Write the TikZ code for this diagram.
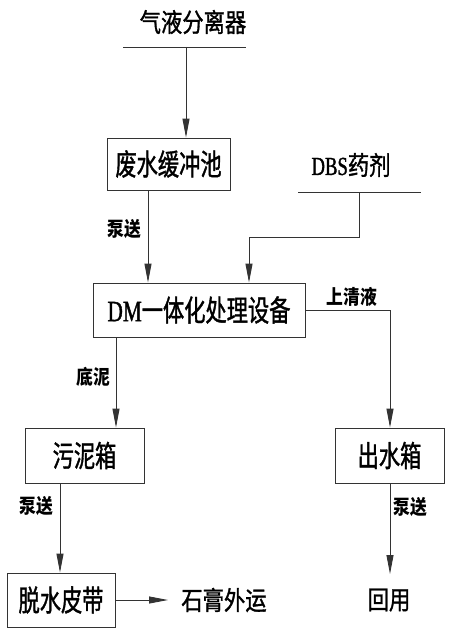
\documentclass[tikz,border=0pt]{standalone}
\usepackage{fontspec}
\setmainfont{Noto Sans CJK SC}[FakeStretch=0.72,FakeBold=1.2]
\newfontfamily\cjkB{Noto Sans CJK SC}[FakeStretch=0.82,FakeBold=1.2]
\newfontfamily\cjkL{Noto Sans CJK SC}[FakeStretch=0.84]
\newfontfamily\latf{Liberation Serif}[FakeStretch=0.72,FakeBold=1.2]
\usetikzlibrary{arrows.meta}
\tikzset{
  ln/.style={draw=black!80, line width=0.9pt},
  arr/.style={ln, -{Triangle[length=19pt,width=7pt]}},
  box/.style={ln, fill=white, inner sep=0pt, font=\fontsize{29.5}{29.5}\selectfont},
  big/.style={inner sep=0pt, font=\cjkB\fontsize{26}{26}\selectfont},
  lab/.style={inner sep=0pt, font=\cjkL\bfseries\fontsize{20}{20}\selectfont},
}
\begin{document}
\begin{tikzpicture}[x=1pt,y=-1pt]
\useasboundingbox (0,0) rectangle (450,634);
% boxes
\node[box, minimum width=123pt, minimum height=52pt] (buf) at (168.5,164) {废水缓冲池};
\node[box, minimum width=212pt, minimum height=54pt] (dm) at (199,310) {{\latf DM}一体化处理设备};
\node[box, minimum width=119pt, minimum height=55pt] (sl) at (84.5,455.5) {污泥箱};
\node[box, minimum width=109pt, minimum height=55pt] (ob) at (389.5,455.5) {出水箱};
\node[box, minimum width=108pt, minimum height=54pt] (belt) at (61,600) {脱水皮带};
% plain texts
\node[big] (gs) at (193,22) {气液分离器};
\node[big] (dbs) at (351,165) {{\latf DBS}药剂};
\node[big] (gyp) at (224,600) {石膏外运};
\node[big] (reuse) at (389,600) {回用};
% labels
\node[lab] (l1) at (124,229) {泵送};
\node[lab] (l2) at (352,297) {上清液};
\node[lab] (l3) at (93,377) {底泥};
\node[lab] (l4) at (36,506) {泵送};
\node[lab] (l5) at (410,507) {泵送};
% helper coordinates
\coordinate (gL) at (123,47);
\coordinate (gR) at (246,47);
\coordinate (gV) at (186,47);
\coordinate (dL) at (298,192);
\coordinate (dR) at (421,192);
\coordinate (dV) at (359,192);
\coordinate (dK) at (359,237);
\coordinate (dJ) at (249,237);
\coordinate (xa) at (148,0);
\coordinate (xs) at (116,0);
\coordinate (xr) at (390,0);
\coordinate (xb) at (60,0);
\coordinate (rt) at (390,574);
\coordinate (gt) at (168,600);
% connectors
\draw[ln] (gL) -- (gR);
\draw[arr] (gV) -- (gV |- buf.north);
\draw[ln] (dL) -- (dR);
\draw[arr] (dV) -- (dK) -- (dJ) -- (dJ |- dm.north);
\draw[arr] (buf.south -| xa) -- (dm.north -| xa);
\draw[arr] (dm.south -| xs) -- (sl.north -| xs);
\draw[arr] (dm.east) -| (xr |- ob.north);
\draw[arr] (sl.south -| xb) -- (belt.north -| xb);
\draw[arr] (belt.east) -- (gt);
\draw[arr] (ob.south -| xr) -- (rt);
\end{tikzpicture}
\end{document}
